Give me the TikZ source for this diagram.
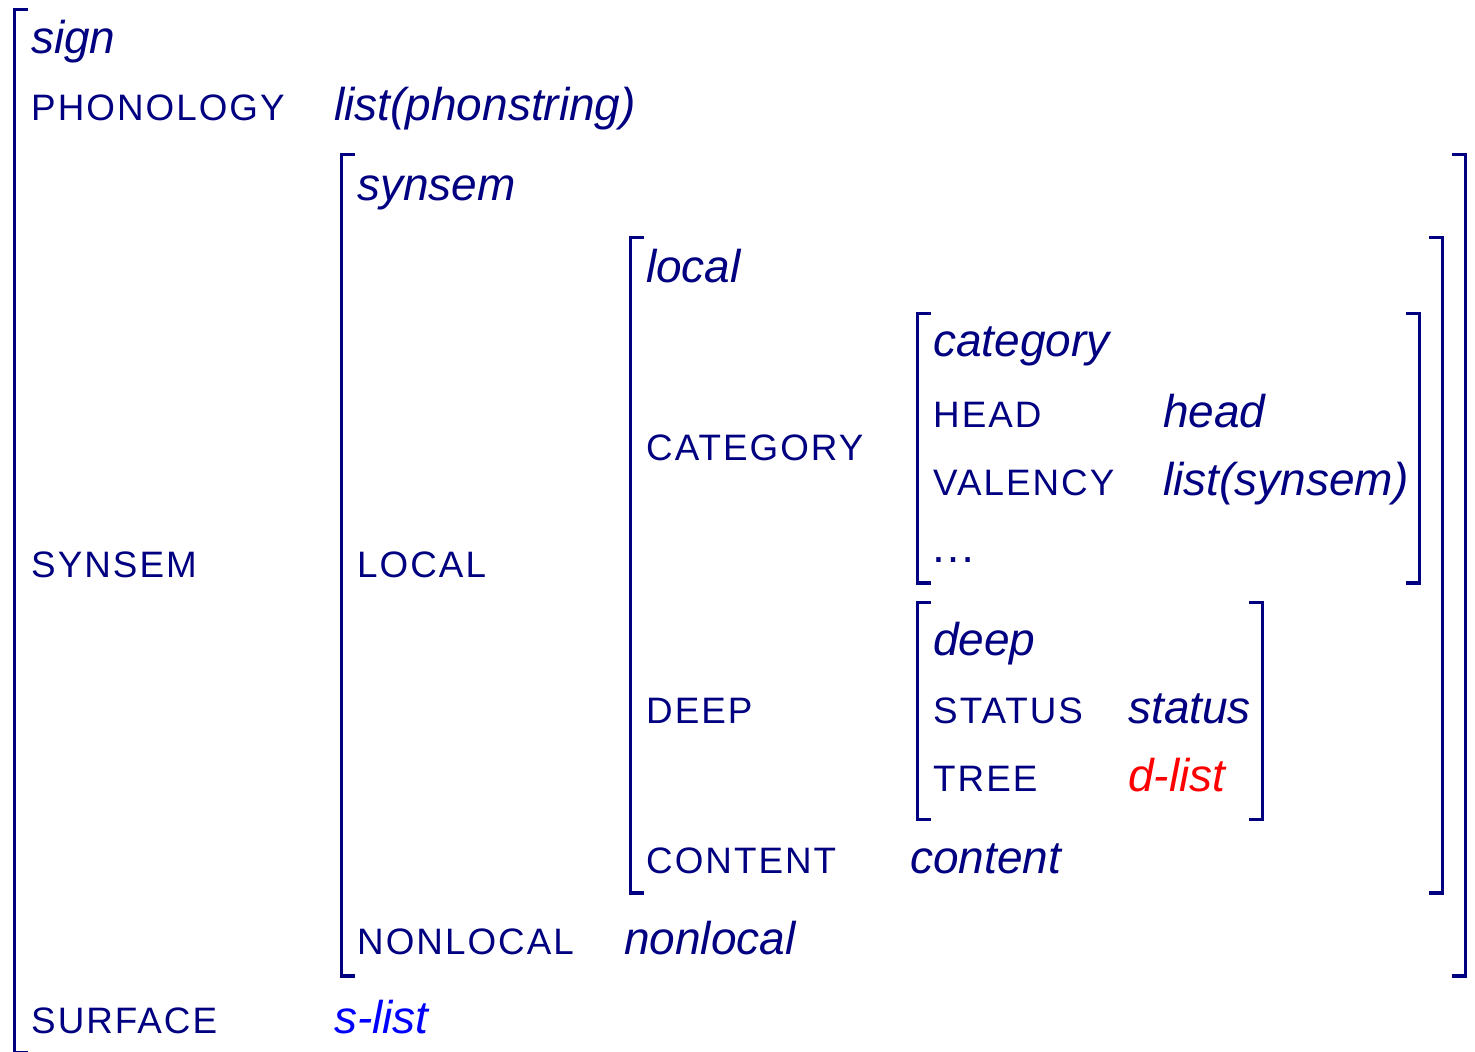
\documentclass[tikz,border=0pt]{standalone}
\usepackage{fontspec}
\setmainfont{Liberation Sans}
\newfontfamily\featfont[LetterSpace=5.5]{Liberation Sans}
\definecolor{avm}{RGB}{0,0,128}
\definecolor{slistblue}{RGB}{0,0,255}
\definecolor{dlistred}{RGB}{255,0,0}

\tikzset{
  feat/.style={anchor=base west, inner sep=0pt, text=avm,
    font=\featfont\fontsize{36.8}{42}\selectfont},
  typ/.style={anchor=base west, inner sep=0pt, text=avm,
    font=\fontsize{46}{52}\selectfont\itshape},
  brk/.style={draw=avm, line width=3.3pt},
}

\begin{document}
\begin{tikzpicture}[x=1pt, y=-1pt]
\useasboundingbox (0,0) rectangle (1475,1052);

% outer AVM: sign
\draw[brk] (28,9.5) -- (14.5,9.5) -- (14.5,1052.5) -- (28,1052.5);
\node[typ]  (sign)   at (31,53)   {sign};
\node[feat] (phon)   at (31,120)  {PHONOLOGY};
\node[typ]  (phonv)  at (334,120) {list(phonstring)};
\node[feat] (synsf)  at (31,577)  {SYNSEM};
\node[feat] (surf)   at (31,1033) {SURFACE};
\node[typ, text=slistblue] (surfv) at (334,1033) {s-list};

% synsem
\draw[brk] (355,154.5) -- (341.5,154.5) -- (341.5,976) -- (355,976);
\draw[brk] (1452,154.5) -- (1465.5,154.5) -- (1465.5,976) -- (1452,976);
\node[typ]  (synsem) at (357,200) {synsem};
\node[feat] (loc)    at (357,577) {LOCAL};
\node[feat] (nonloc) at (357,954) {NONLOCAL};
\node[typ]  (nonlocv) at (624,954) {nonlocal};

% local
\draw[brk] (644,237.5) -- (630.5,237.5) -- (630.5,893) -- (644,893);
\draw[brk] (1429,237.5) -- (1442.5,237.5) -- (1442.5,893) -- (1429,893);
\node[typ]  (local)  at (646,282) {local};
\node[feat] (cat)    at (646,460) {CATEGORY};
\node[feat] (deepf)  at (646,723) {DEEP};
\node[feat] (cont)   at (646,873) {CONTENT};
\node[typ]  (contv)  at (910,873) {content};

% category
\draw[brk] (931,313.5) -- (917.5,313.5) -- (917.5,583) -- (931,583);
\draw[brk] (1406,313.5) -- (1419.5,313.5) -- (1419.5,583) -- (1406,583);
\node[typ]  (category) at (933,356) {category};
\node[feat] (head)   at (933,427) {HEAD};
\node[typ]  (headv)  at (1163,427) {head};
\node[feat] (val)    at (933,495) {VALENCY};
\node[typ]  (valv)   at (1163,495) {list(synsem)};
\node[anchor=base west, inner sep=0pt, text=avm,
      font=\fontsize{46}{52}\selectfont] (dots) at (930,562) {…};

% deep
\draw[brk] (931,602.5) -- (917.5,602.5) -- (917.5,819.5) -- (931,819.5);
\draw[brk] (1249,602.5) -- (1262.5,602.5) -- (1262.5,819.5) -- (1249,819.5);
\node[typ]  (deep)   at (933,655) {deep};
\node[feat] (status) at (933,723) {STATUS};
\node[typ]  (statusv) at (1128,723) {status};
\node[feat] (tree)   at (933,791) {TREE};
\node[typ, text=dlistred] (treev) at (1128,791) {d-list};
\end{tikzpicture}
\end{document}
